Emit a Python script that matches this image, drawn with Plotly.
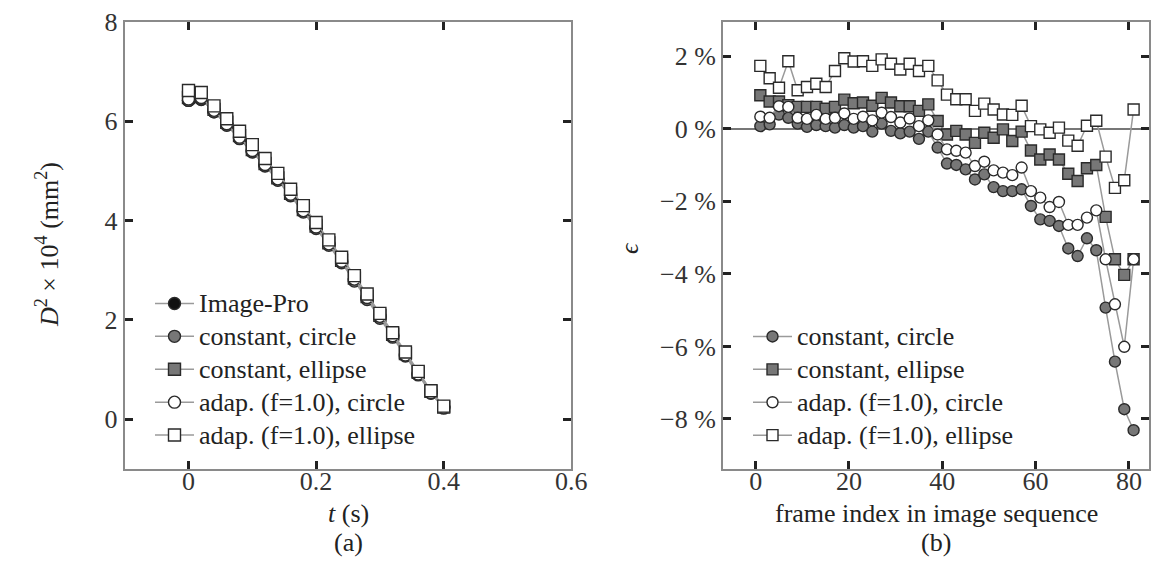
import plotly.graph_objects as go

# ---------------- data: panel (a) ----------------
t_s = [0.00, 0.02, 0.04, 0.06, 0.08, 0.10, 0.12, 0.14, 0.16, 0.18, 0.20,
       0.22, 0.24, 0.26, 0.28, 0.30, 0.32, 0.34, 0.36, 0.38, 0.40]
d2_imagepro = [6.42, 6.44, 6.19, 5.93, 5.66, 5.39, 5.11, 4.82, 4.51, 4.19, 3.86,
               3.52, 3.17, 2.81, 2.45, 2.07, 1.69, 1.31, 0.93, 0.56, 0.25]
d2_const_circle = [6.42, 6.45, 6.19, 5.92, 5.65, 5.38, 5.10, 4.81, 4.50, 4.17, 3.84,
                   3.50, 3.15, 2.78, 2.41, 2.03, 1.65, 1.27, 0.89, 0.52, 0.22]
d2_const_ellipse = [6.48, 6.50, 6.24, 5.98, 5.71, 5.43, 5.15, 4.86, 4.55, 4.22, 3.89,
                    3.55, 3.20, 2.84, 2.47, 2.09, 1.71, 1.32, 0.94, 0.56, 0.24]
d2_adap_circle = [6.45, 6.48, 6.22, 5.95, 5.68, 5.41, 5.13, 4.84, 4.53, 4.20, 3.87,
                  3.53, 3.18, 2.82, 2.45, 2.07, 1.68, 1.29, 0.91, 0.53, 0.24]
d2_adap_ellipse = [6.62, 6.58, 6.31, 6.05, 5.80, 5.53, 5.25, 4.95, 4.63, 4.30, 3.96,
                   3.61, 3.26, 2.89, 2.52, 2.13, 1.74, 1.35, 0.96, 0.57, 0.26]

# ---------------- data: panel (b) ----------------
frames = [1, 3, 5, 7, 9, 11, 13, 15, 17, 19, 21, 23, 25, 27, 29, 31, 33, 35, 37, 39, 41,
          43, 45, 47, 49, 51, 53, 55, 57, 59, 61, 63, 65, 67, 69, 71, 73, 75, 77, 79, 81]
eps_const_circle = [0.07, 0.12, 0.39, 0.30, 0.14, 0.05, 0.10, 0.07, 0.03, 0.10, 0.03,
                    0.07, -0.08, 0.14, -0.06, -0.13, -0.08, -0.28, -0.08, -0.52, -0.96,
                    -1.00, -1.12, -1.40, -1.26, -1.61, -1.72, -1.72, -1.67, -2.13, -2.50,
                    -2.54, -2.68, -3.30, -3.51, -3.02, -3.35, -4.93, -6.42, -7.73, -8.31]
eps_const_ellipse = [0.92, 0.75, 0.75, 0.65, 0.60, 0.60, 0.60, 0.55, 0.60, 0.80, 0.70,
                     0.72, 0.63, 0.85, 0.72, 0.62, 0.62, 0.49, 0.67, 0.21, -0.16,
                     -0.06, -0.16, -0.39, -0.11, -0.25, -0.02, -0.34, -0.08, -0.60, -0.85,
                     -0.71, -0.85, -1.24, -1.44, -1.09, -1.00, -2.43, -3.60, -4.03, -3.60]
eps_adap_circle = [0.33, 0.30, 0.62, 0.60, 0.30, 0.27, 0.38, 0.27, 0.30, 0.42, 0.27,
                   0.33, 0.23, 0.44, 0.32, 0.17, 0.28, 0.07, 0.23, -0.16, -0.57,
                   -0.61, -0.66, -1.03, -0.91, -1.15, -1.21, -1.28, -1.07, -1.72, -1.90,
                   -2.16, -2.02, -2.65, -2.65, -2.45, -2.25, -3.60, -4.84, -6.01, -3.60]
eps_adap_ellipse = [1.73, 1.39, 1.13, 1.86, 1.06, 1.15, 1.24, 1.15, 1.59, 1.94, 1.85,
                    1.86, 1.73, 1.91, 1.79, 1.63, 1.79, 1.59, 1.73, 1.33, 0.94,
                    0.81, 0.81, 0.49, 0.69, 0.53, 0.39, 0.38, 0.63, 0.07, -0.02,
                    -0.11, 0.03, -0.33, -0.47, 0.08, 0.22, -0.77, -1.63, -1.42, 0.53]

names_a = ["Image-Pro", "constant, circle", "constant, ellipse",
           "adap. (f=1.0), circle", "adap. (f=1.0), ellipse"]
names_b = ["constant, circle", "constant, ellipse",
           "adap. (f=1.0), circle", "adap. (f=1.0), ellipse"]

xticks_a = [0, 0.2, 0.4, 0.6]
xticklabels_a = ["0", "0.2", "0.4", "0.6"]
yticks_a = [0, 2, 4, 6, 8]
yticklabels_a = ["0", "2", "4", "6", "8"]
xticks_b = [0, 20, 40, 60, 80]
xticklabels_b = ["0", "20", "40", "60", "80"]
yticks_b = [2, 0, -2, -4, -6, -8]
yticklabels_b = ["2 %", "0 %", "\u22122 %", "\u22124 %", "\u22126 %", "\u22128 %"]

# ---------------- styles ----------------
FONT = "Liberation Serif, Times New Roman, DejaVu Serif, serif"
FS = 26          # tick labels and titles
LFS = 23         # legend base size (controls row spacing)
LTXT = 26        # legend text size
LINE_C = "#9a9a9a"
EDGE = "#2a2a2a"
GREY = "#777777"

styles = {
    "Image-Pro": dict(symbol="circle", color="#111111"),
    "constant, circle": dict(symbol="circle", color=GREY),
    "constant, ellipse": dict(symbol="square", color=GREY),
    "adap. (f=1.0), circle": dict(symbol="circle", color="white"),
    "adap. (f=1.0), ellipse": dict(symbol="square", color="white"),
}

def legend_label(s):
    return f'<span style="font-size:{LTXT}px">{s}</span>'

fig = go.Figure()

series_a = [d2_imagepro, d2_const_circle, d2_const_ellipse, d2_adap_circle, d2_adap_ellipse]
for name, ys in zip(names_a, series_a):
    st = styles[name]
    fig.add_trace(go.Scatter(
        x=t_s, y=ys, mode="lines+markers", name=legend_label(name),
        xaxis="x", yaxis="y", legend="legend",
        line=dict(color=LINE_C, width=1.5),
        marker=dict(symbol=st["symbol"], size=12, color=st["color"],
                    line=dict(color=EDGE, width=1.4)),
    ))

series_b = [eps_const_circle, eps_const_ellipse, eps_adap_circle, eps_adap_ellipse]
for name, ys in zip(names_b, series_b):
    st = styles[name]
    fig.add_trace(go.Scatter(
        x=frames, y=ys, mode="lines+markers", name=legend_label(name),
        xaxis="x2", yaxis="y2", legend="legend2",
        line=dict(color=LINE_C, width=1.5),
        marker=dict(symbol=st["symbol"], size=11, color=st["color"],
                    line=dict(color=EDGE, width=1.4)),
    ))

W, H = 1159, 570
L1, R1 = 116.7, 563.3
L2, R2 = 715.0, 1141.0
TOP, BOT = 14.0, 460.7

def px(x):
    return x / W

def py(y):
    return 1 - y / H

axis_common = dict(
    showline=True, linecolor="#8a8a8a", linewidth=2, mirror="ticks",
    ticks="inside", ticklen=8, tickwidth=2.5, tickcolor="#222222",
    showgrid=False, zeroline=False, automargin=False,
    tickfont=dict(family=FONT, size=FS, color="#333333"),
)

legend_common = dict(
    xanchor="left", yanchor="top", bgcolor="rgba(0,0,0,0)",
    font=dict(family=FONT, size=LFS, color="#222222"),
    tracegroupgap=0, itemwidth=39, borderwidth=0,
)

fig.update_layout(
    template="none",
    width=W, height=H,
    margin=dict(l=0, r=0, t=0, b=0, pad=0),
    paper_bgcolor="white", plot_bgcolor="white",
    font=dict(family=FONT, size=FS, color="#222222"),
    xaxis=dict(domain=[px(L1), px(R1)], range=[-0.1, 0.6], ticklabelstandoff=-12,
               tickvals=xticks_a, ticktext=xticklabels_a, anchor="y", **axis_common),
    yaxis=dict(domain=[py(BOT), py(TOP)], range=[-1, 8],
               tickvals=yticks_a, ticktext=yticklabels_a, anchor="x", **axis_common),
    xaxis2=dict(domain=[px(L2), px(R2)], range=[-7, 84.3], ticklabelstandoff=-12,
                tickvals=xticks_b, ticktext=xticklabels_b, anchor="y2", **axis_common),
    yaxis2=dict(domain=[py(BOT), py(TOP)], range=[-9.37, 2.94],
                tickvals=yticks_b, ticktext=yticklabels_b, anchor="x2", **axis_common),
    legend=dict(x=px(142), y=py(274), **legend_common),
    legend2=dict(x=px(740), y=py(307), **legend_common),
    showlegend=True,
)
fig.layout.yaxis2.zeroline = True
fig.layout.yaxis2.zerolinecolor = "#777777"
fig.layout.yaxis2.zerolinewidth = 1.5

ann_font = dict(family=FONT, size=FS, color="#222222")
annotations = [
    dict(text="<i>D</i><sup>2</sup> × 10<sup>4</sup> (mm<sup>2</sup>)", x=px(40), y=py(237),
         textangle=-90),
    dict(text="<i>t</i> (s)", x=px((L1 + R1) / 2), y=py(505)),
    dict(text="(a)", x=px((L1 + R1) / 2), y=py(534)),
    dict(text="<i>\u03f5</i>", x=px(621), y=py(240), textangle=-90),
    dict(text="frame index in image sequence", x=px((L2 + R2) / 2), y=py(505)),
    dict(text="(b)", x=px((L2 + R2) / 2), y=py(534)),
]
for a in annotations:
    fig.add_annotation(xref="paper", yref="paper", xanchor="center", yanchor="middle",
                       showarrow=False, font=ann_font, **a)

fig.write_html("out.html")
